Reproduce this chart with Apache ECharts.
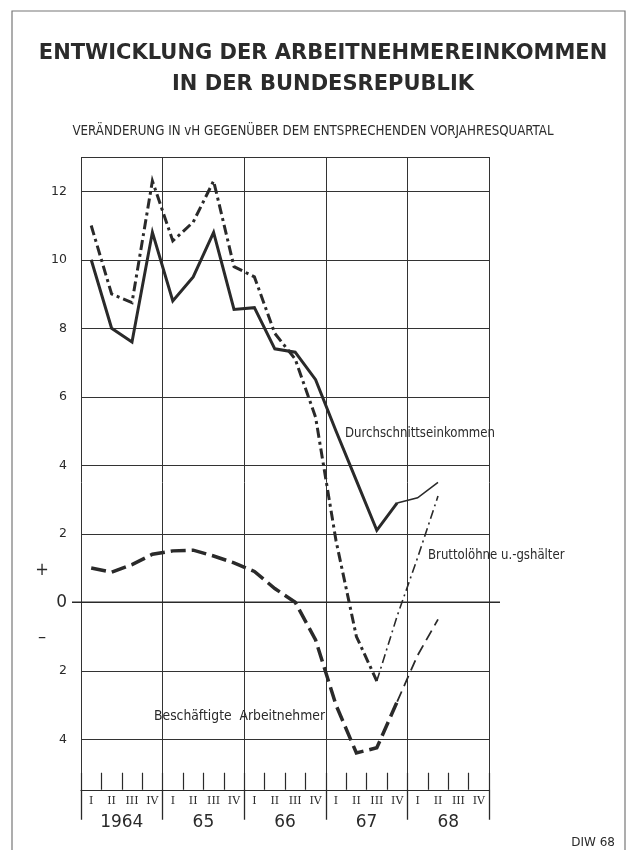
<!DOCTYPE html>
<html>
<head>
<meta charset="utf-8">
<script src="https://cdn.jsdelivr.net/npm/echarts@6/dist/echarts.min.js"></script>
<style>
  html, body { margin: 0; padding: 0; background: #fff; }
  #chart { width: 626px; height: 850px; }
</style>
</head>
<body>
<div id="chart"></div>
<script>
// Quartale 1964 I bis 1968 IV
var quarters = ['I', 'II', 'III', 'IV', 'I', 'II', 'III', 'IV', 'I', 'II', 'III', 'IV',
  'I', 'II', 'III', 'IV', 'I', 'II', 'III', 'IV']
var years = ['1964', '65', '66', '67', '68']

// Durchschnittseinkommen (durchgezogen), dick bis 1967 IV, dann duenn
var durchDick = [10.0, 8.0, 7.6, 10.8, 8.8, 9.5, 10.8, 8.55, 8.6, 7.4, 7.3, 6.5, 5.0, 3.55, 2.1, 2.9]
var durchDuenn = [2.9, 3.05, 3.5] // ab 1967 IV

// Bruttoloehne u. -gehaelter (strich-punkt), dick bis 1967 III
var bruttoDick = [11.0, 9.0, 8.75, 12.3, 10.55, 11.1, 12.3, 9.8, 9.5, 7.85, 7.1, 5.4, 1.8, -1.0, -2.3]
var bruttoDuenn = [-2.3, -0.4, 1.3, 3.1] // ab 1967 III

// Beschaeftigte Arbeitnehmer (gestrichelt), dick bis 1967 IV
var beschDick = [1.0, 0.88, 1.1, 1.4, 1.5, 1.52, 1.35, 1.15, 0.9, 0.4, 0.0, -1.1, -3.0, -4.4, -4.25, -2.9]
var beschDuenn = [-2.9, -1.55, -0.5] // ab 1967 IV

var yTicks = [-4, -2, 0, 2, 4, 6, 8, 10, 12]

var ink = '#2a2a2a'
var condensed = '"DejaVu Sans Condensed", "Liberation Sans Narrow", sans-serif'

// Reihe an Position start in 20 Quartale einsetzen
function place (values, start) {
  var out = []
  for (var i = 0; i < quarters.length; i++) out.push(null)
  values.forEach(function (v, i) { out[start + i] = v })
  return out
}

function lineSeries (data, width, type) {
  return {
    type: 'line',
    data: data,
    symbol: 'none',
    silent: true,
    connectNulls: false,
    lineStyle: { color: ink, width: width, type: type, cap: 'butt', join: 'miter' }
  }
}

var chart = echarts.init(document.getElementById('chart'), null, { renderer: 'canvas' })

// Gitterlinien: -6 ist unsichtbar (unterhalb der Achse)
var splitColors = ['rgba(0,0,0,0)']
for (var k = 0; k < 12; k++) splitColors.push('#333')

chart.setOption({
  animation: false,
  backgroundColor: '#fff',
  title: [
    {
      text: 'ENTWICKLUNG DER ARBEITNEHMEREINKOMMEN\nIN DER BUNDESREPUBLIK',
      left: 318,
      top: 33,
      textAlign: 'center',
      textStyle: {
        fontFamily: '"DejaVu Sans", sans-serif',
        fontWeight: 'bold',
        fontSize: 21,
        lineHeight: 31,
        color: '#2b2b2b'
      }
    },
    {
      text: 'VERÄNDERUNG IN vH GEGENÜBER DEM ENTSPRECHENDEN VORJAHRESQUARTAL',
      left: 'center',
      top: 120,
      textStyle: {
        fontFamily: condensed,
        fontWeight: 'normal',
        fontSize: 13.2,
        color: '#2b2b2b'
      }
    }
  ],
  grid: { left: 81, right: 137, top: 157, bottom: 42.25 },
  xAxis: [
    {
      type: 'category',
      data: quarters,
      boundaryGap: true,
      position: 'bottom',
      offset: -18,
      axisLine: { show: true, onZero: false, lineStyle: { color: ink, width: 1.2 } },
      axisTick: { show: true, inside: true, interval: 0, length: 17, lineStyle: { color: ink, width: 1.2 } },
      axisLabel: {
        interval: 0,
        margin: 6,
        fontFamily: '"DejaVu Serif", "Liberation Serif", serif',
        fontSize: 11,
        color: ink
      },
      splitLine: { show: false }
    },
    {
      type: 'category',
      data: years,
      boundaryGap: true,
      position: 'bottom',
      offset: -18,
      axisLine: { show: false, onZero: false },
      axisTick: { show: true, interval: 0, length: 30, lineStyle: { color: ink, width: 1.3 } },
      axisLabel: {
        interval: 0,
        margin: 24,
        fontFamily: '"DejaVu Sans", sans-serif',
        fontSize: 17,
        color: ink
      },
      splitLine: { show: true, interval: 0, lineStyle: { color: '#333', width: 1 } }
    }
  ],
  yAxis: {
    type: 'value',
    min: -6,
    max: 13,
    interval: 2,
    axisLine: { show: false },
    axisTick: { show: false },
    axisLabel: {
      margin: 14,
      fontFamily: '"DejaVu Sans", sans-serif',
      fontSize: 12.5,
      color: ink,
      formatter: function (v) {
        if (yTicks.indexOf(v) < 0) return ''
        if (v === 0) return '{z|0}'
        return String(Math.abs(v))
      },
      rich: { z: { fontSize: 17, fontFamily: '"DejaVu Sans", sans-serif', color: ink } }
    },
    splitLine: { show: true, lineStyle: { color: splitColors, width: 1 } }
  },
  series: [
    lineSeries(place(durchDick, 0), 3, 'solid'),
    lineSeries(place(durchDuenn, 15), 1.6, 'solid'),
    lineSeries(place(bruttoDick, 0), 3, [10, 4, 3, 4]),
    lineSeries(place(bruttoDuenn, 14), 1.6, [9, 4, 2, 4]),
    lineSeries(place(beschDick, 0), 3.5, [15, 6]),
    lineSeries(place(beschDuenn, 15), 1.8, [11, 6])
  ]
})

// Nulllinie verlaengert, Beschriftungen, Rahmen
var zeroY = chart.convertToPixel({ yAxisIndex: 0 }, 0)
var label = function (txt, x, y, size, align, sx) {
  return {
    type: 'text',
    x: x,
    y: y,
    scaleX: sx || 1,
    silent: true,
    style: {
      text: txt,
      fill: ink,
      font: size + 'px ' + condensed,
      align: align || 'left',
      verticalAlign: 'middle'
    }
  }
}

chart.setOption({
  graphic: [
    {
      type: 'rect',
      silent: true,
      shape: { x: 12, y: 11, width: 613, height: 860 },
      style: { fill: 'none', stroke: '#777', lineWidth: 1.2 }
    },
    {
      type: 'line',
      silent: true,
      shape: { x1: 72, y1: zeroY, x2: 500, y2: zeroY },
      style: { stroke: ink, lineWidth: 1.4 }
    },
    label('Durchschnittseinkommen', 345, 433, 14.5, 'left', 0.9),
    label('Bruttolöhne u.-gshälter', 428, 555, 14.5, 'left', 0.9),
    label('Beschäftigte  Arbeitnehmer', 154, 716, 14.5, 'left', 0.95),
    label('+', 42, 570, 18, 'center'),
    label('–', 42, 637, 18, 'center'),
    {
      type: 'text',
      x: 615,
      y: 843,
      silent: true,
      style: { text: 'DIW 68', fill: ink, font: '12px "DejaVu Sans", sans-serif', align: 'right', verticalAlign: 'middle' }
    }
  ]
})
</script>
</body>
</html>
